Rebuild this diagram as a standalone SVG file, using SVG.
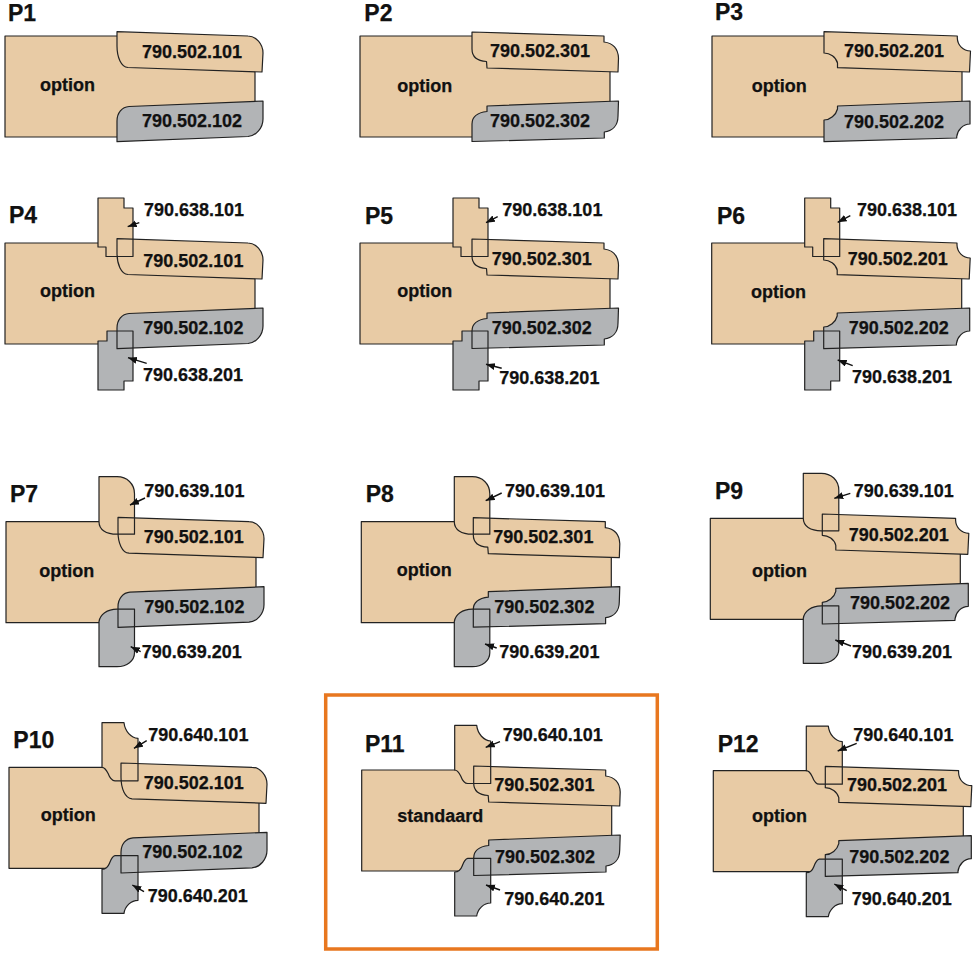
<svg xmlns="http://www.w3.org/2000/svg" width="976" height="955" viewBox="0 0 976 955">
<style>
.bg{fill:#fff}
.b,.g,.o{stroke:#222;stroke-width:1.2;stroke-linejoin:round}
.b,.bf{fill:#e8cba5}
.g,.gf{fill:#b2b4b6}
.o{fill:none}
text{font-family:"Liberation Sans",Arial,sans-serif;font-weight:bold;fill:#111;stroke:#111;stroke-width:.25}
.h{font-size:23px}
.t{font-size:18px}
.frame{fill:none;stroke:#e8771f;stroke-width:3.5}
.ld{fill:none;stroke:#111;stroke-width:1.4}
</style>
<defs>
<marker id="ah" markerUnits="userSpaceOnUse" markerWidth="10" markerHeight="8" refX="9" refY="3.5" orient="auto"><path d="M0 0L9 3.5L0 7Z" fill="#111"/></marker>
<path id="body" d="M0 0H125V20H250V80H125V101H0Z"/>
<path id="u1" d="M112 -4.3L243 0C251 0 258 8 258 17L257 36L123 31.5C116 31 112 21 112 10Z"/>
<path id="l1" d="M112 105.7V85C112 77 117 71 124 70.5L258 65V83C258 92 251 100 243 100.5Z"/>
<path id="u3" d="M112 -4L244 0V6C252 7 258 12 258.5 22L258 36L127 32L126.5 25.5C118 25 112 21 112 13Z"/>
<path id="l3" d="M112 105.5V88C112 80 118 76.5 127 75.5V70L258.5 65L258 80C258 90 252 95 244.3 96V102Z"/>
<path id="u2" d="M112 -4.3L245.3 0V2C245.5 9 251 15 258.5 15L257.5 36L125.5 31.7V27C124 21 118 17 112 17Z"/>
<path id="l2" d="M112 105.7V84C118 84 124 79 125.5 73V70L258 65V88C251 88 245.5 94 244.7 100.7V102Z"/>
<path id="a1" d="M93 -45H119V-35H128V13.5H101V4H93Z"/>
<path id="a2" d="M102 88H128V138H119V147H93V98H102Z"/>
<path id="b1" d="M93 -45H111C121 -45 128.5 -38 128.5 -28V12.5H111C100 12.5 93 8 93 0Z"/>
<path id="b2" d="M128.5 87.5V131C128.5 139 121 145 111 145H93V100C94 93 101 87.5 111 87.5Z"/>
<path id="c1" d="M93 -44.6H115C116 -36 122 -29.5 129 -29V13.5H106C102 13.5 100.5 10 99 6C97 2 95 0 93 0Z"/>
<path id="c2" d="M106 88.4H129V133C122 133 116 139 115 146H93V102C96 102 99 100 100.5 96C102 92 103 89 106 88.4Z"/>
</defs>
<rect class="bg" width="976" height="955"/>
<rect id="highlight" class="frame" x="325.7" y="695" width="331.6" height="254"/>

<g id="P1"><g transform="translate(5 36)"><use href="#body" class="b"/><use href="#u1" class="b"/><use href="#l1" class="g"/></g>
<text class="h" x="8" y="20.7">P1</text><text class="t" x="40" y="91">option</text><text class="t" x="142" y="58">790.502.101</text><text class="t" x="142" y="126.7">790.502.102</text></g>

<g id="P2"><g transform="translate(360 36)"><use href="#body" class="b"/><use href="#u3" class="b"/><use href="#l3" class="g"/></g>
<text class="h" x="364.3" y="20.7">P2</text><text class="t" x="397.3" y="91.5">option</text><text class="t" x="490" y="57.3">790.502.301</text><text class="t" x="490" y="126.7">790.502.302</text></g>

<g id="P3"><g transform="translate(712 36)"><use href="#body" class="b"/><use href="#u2" class="b"/><use href="#l2" class="g"/></g>
<text class="h" x="715" y="20">P3</text><text class="t" x="751.7" y="92">option</text><text class="t" x="844" y="57.3">790.502.201</text><text class="t" x="844" y="128">790.502.202</text></g>

<g id="P4"><g transform="translate(5 243)"><use href="#body" class="b"/><use href="#a1" class="bf"/><use href="#a2" class="gf"/><use href="#u1" class="b"/><use href="#l1" class="g"/><use href="#a1" class="o"/><use href="#a2" class="o"/></g>
<text class="h" x="9" y="223.3">P4</text><text class="t" x="40" y="297.3">option</text><text class="t" x="144" y="216">790.638.101</text><text class="t" x="143.3" y="266.7">790.502.101</text><text class="t" x="143.3" y="334.3">790.502.102</text><text class="t" x="143" y="380.7">790.638.201</text></g>

<g id="P5"><g transform="translate(360 243)"><use href="#body" class="b"/><use href="#a1" class="bf"/><use href="#a2" class="gf"/><use href="#u3" class="b"/><use href="#l3" class="g"/><use href="#a1" class="o"/><use href="#a2" class="o"/></g>
<text class="h" x="365" y="224">P5</text><text class="t" x="397.3" y="297.3">option</text><text class="t" x="502.3" y="215.7">790.638.101</text><text class="t" x="491.7" y="265">790.502.301</text><text class="t" x="491.7" y="334">790.502.302</text><text class="t" x="499.3" y="384">790.638.201</text></g>

<g id="P6"><g transform="translate(711.7 243)"><use href="#body" class="b"/><use href="#a1" class="bf"/><use href="#a2" class="gf"/><use href="#u2" class="b"/><use href="#l2" class="g"/><use href="#a1" class="o"/><use href="#a2" class="o"/></g>
<text class="h" x="717" y="224">P6</text><text class="t" x="751" y="298.3">option</text><text class="t" x="857" y="215.7">790.638.101</text><text class="t" x="847.7" y="265">790.502.201</text><text class="t" x="848.7" y="334.3">790.502.202</text><text class="t" x="852" y="382.7">790.638.201</text></g>

<g id="P7"><g transform="translate(6 521.7)"><use href="#body" class="b"/><use href="#b1" class="bf"/><use href="#b2" class="gf"/><use href="#u1" class="b"/><use href="#l1" class="g"/><use href="#b1" class="o"/><use href="#b2" class="o"/></g>
<text class="h" x="10" y="502.3">P7</text><text class="t" x="39.3" y="576.7">option</text><text class="t" x="144.3" y="496.7">790.639.101</text><text class="t" x="143.7" y="543.3">790.502.101</text><text class="t" x="144.3" y="612.7">790.502.102</text><text class="t" x="141.7" y="657.7">790.639.201</text></g>

<g id="P8"><g transform="translate(361.3 521.7)"><use href="#body" class="b"/><use href="#b1" class="bf"/><use href="#b2" class="gf"/><use href="#u3" class="b"/><use href="#l3" class="g"/><use href="#b1" class="o"/><use href="#b2" class="o"/></g>
<text class="h" x="365.7" y="502.3">P8</text><text class="t" x="396.7" y="575.7">option</text><text class="t" x="505" y="496.7">790.639.101</text><text class="t" x="493.3" y="543.3">790.502.301</text><text class="t" x="494.3" y="612.7">790.502.302</text><text class="t" x="499.3" y="657.7">790.639.201</text></g>

<g id="P9"><g transform="translate(710.3 518.3)"><use href="#body" class="b"/><use href="#b1" class="bf"/><use href="#b2" class="gf"/><use href="#u2" class="b"/><use href="#l2" class="g"/><use href="#b1" class="o"/><use href="#b2" class="o"/></g>
<text class="h" x="715" y="499">P9</text><text class="t" x="752" y="576.7">option</text><text class="t" x="853.7" y="496.7">790.639.101</text><text class="t" x="848.7" y="541">790.502.201</text><text class="t" x="850" y="609.3">790.502.202</text><text class="t" x="852" y="657.7">790.639.201</text></g>

<g id="P10"><g transform="translate(9 767.3)"><use href="#body" class="b"/><use href="#c1" class="bf"/><use href="#c2" class="gf"/><use href="#u1" class="b"/><use href="#l1" class="g"/><use href="#c1" class="o"/><use href="#c2" class="o"/></g>
<text class="h" x="13.3" y="748.3">P10</text><text class="t" x="40.7" y="821">option</text><text class="t" x="148.3" y="740.7">790.640.101</text><text class="t" x="143.7" y="789">790.502.101</text><text class="t" x="142.3" y="858.3">790.502.102</text><text class="t" x="147.7" y="901.7">790.640.201</text></g>

<g id="P11"><g transform="translate(361.7 770)"><use href="#body" class="b"/><use href="#c1" class="bf"/><use href="#c2" class="gf"/><use href="#u3" class="b"/><use href="#l3" class="g"/><use href="#c1" class="o"/><use href="#c2" class="o"/></g>
<text class="h" x="365" y="752.3">P11</text><text class="t" x="397.3" y="821.7">standaard</text><text class="t" x="502.7" y="740.7">790.640.101</text><text class="t" x="494.3" y="790.7">790.502.301</text><text class="t" x="495" y="863.3">790.502.302</text><text class="t" x="504.3" y="905">790.640.201</text></g>

<g id="P12"><g transform="translate(713.3 770.7)"><use href="#body" class="b"/><use href="#c1" class="bf"/><use href="#c2" class="gf"/><use href="#u2" class="b"/><use href="#l2" class="g"/><use href="#c1" class="o"/><use href="#c2" class="o"/></g>
<text class="h" x="717.7" y="752.3">P12</text><text class="t" x="752" y="821.7">option</text><text class="t" x="853.3" y="740.7">790.640.101</text><text class="t" x="847" y="790.7">790.502.201</text><text class="t" x="849.3" y="863.3">790.502.202</text><text class="t" x="851.7" y="905">790.640.201</text></g>

<g id="connectors" class="ld">
<path marker-end="url(#ah)" d="M139.3 222.7L127.7 226.7"/><path marker-end="url(#ah)" d="M146.7 363.3L128 357.7"/>
<path marker-end="url(#ah)" d="M497.7 216.7L486 222.7"/><path marker-end="url(#ah)" d="M501.7 368.3L486 364.3"/>
<path marker-end="url(#ah)" d="M850.3 215.7L837.7 222.3"/><path marker-end="url(#ah)" d="M852.7 365.7L837.7 360"/>
<path marker-end="url(#ah)" d="M145 498L130 505"/><path marker-end="url(#ah)" d="M140.7 651.7L130.7 646.7"/>
<path marker-end="url(#ah)" d="M501.7 493L485.7 500.7"/><path marker-end="url(#ah)" d="M496.7 648L485 644"/>
<path marker-end="url(#ah)" d="M850.3 493.3L834.3 498.3"/><path marker-end="url(#ah)" d="M851 646L835.3 640"/>
<path marker-end="url(#ah)" d="M146.7 740.7L134 748.3"/><path marker-end="url(#ah)" d="M144 891.7L132.3 885"/>
<path marker-end="url(#ah)" d="M500 741.7L485.7 747.3"/><path marker-end="url(#ah)" d="M500 890L486 885"/>
<path marker-end="url(#ah)" d="M856.7 743.3L837.7 751"/><path marker-end="url(#ah)" d="M846.7 890.7L834.3 884"/>
</g>
</svg>
